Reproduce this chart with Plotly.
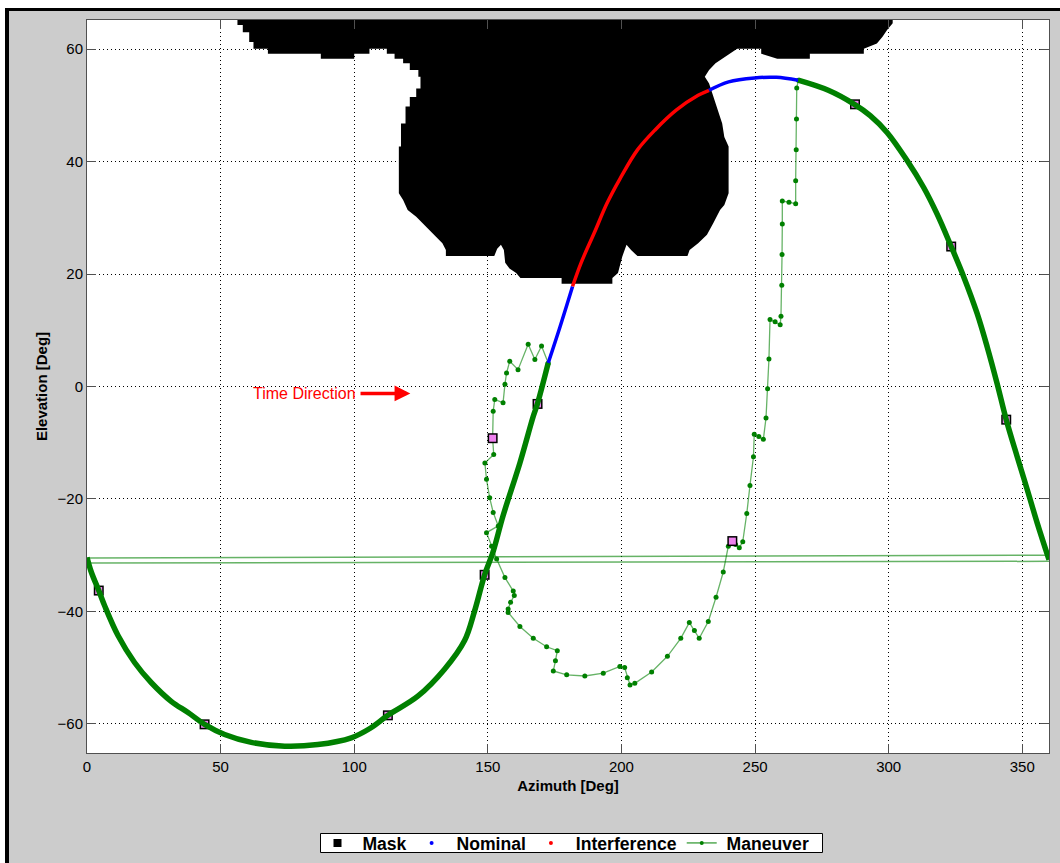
import plotly.graph_objects as go

FONT = "Liberation Sans, Arial, sans-serif"
GREEN = "#008000"
THIN_GREEN = "rgba(0,128,0,0.6)"
FRAME = "#505050"

# ---- data (azimuth, elevation) in degrees ----
# elevation mask outline (closed region, extends above the plot top)
mask_outline = [
    (56.3, 70.0), (56.3, 64.3), (58.3, 64.3), (58.3, 63.0), (60.7, 63.0), (60.7, 61.3),
    (62.3, 61.3), (62.3, 60.1), (67.7, 60.1), (67.7, 59.2), (87.5, 59.2), (87.5, 58.3),
    (100.0, 58.3), (100.0, 59.2), (105.7, 59.2), (105.7, 60.1), (112.2, 60.1), (112.2, 59.2),
    (115.1, 59.2), (115.1, 58.3), (118.3, 58.3), (118.3, 57.5), (120.8, 57.5), (120.8, 56.3),
    (124.0, 56.3), (124.0, 55.1), (124.8, 55.1), (124.8, 53.0), (123.2, 53.0), (123.2, 51.5),
    (120.8, 51.5), (120.8, 49.8), (119.2, 49.8), (119.2, 46.8), (117.5, 46.8), (117.5, 42.7),
    (116.7, 42.7), (116.7, 34.4), (118.3, 33.2), (120.0, 31.4), (123.2, 30.2), (125.6, 29.1),
    (128.1, 27.9), (130.5, 26.7), (133.0, 25.5), (134.3, 24.3), (134.3, 23.2), (152.4, 23.2),
    (153.5, 24.5), (154.9, 25.2), (156.0, 24.3), (156.5, 22.0), (158.1, 21.0), (160.6, 20.2),
    (162.2, 19.3), (177.6, 19.3), (177.6, 18.3), (196.6, 18.3), (196.6, 19.3), (198.7, 20.2),
    (200.3, 23.1), (201.9, 25.2), (203.6, 24.3), (206.0, 23.2), (224.7, 23.2), (225.5, 24.3),
    (228.7, 25.5), (232.0, 27.0), (234.4, 29.1), (236.9, 31.4), (238.5, 32.3), (240.1, 34.4),
    (240.1, 42.7), (238.5, 44.4), (237.7, 46.8), (236.0, 49.2), (234.4, 51.5), (232.8, 53.9),
    (231.2, 55.1), (232.8, 56.3), (235.2, 57.5), (237.7, 58.3), (240.1, 59.2), (243.3, 60.1),
    (252.3, 60.1), (252.3, 59.2), (258.3, 58.3), (270.5, 58.3), (270.5, 59.2), (290.7, 59.2),
    (290.7, 60.1), (295.6, 61.0), (297.7, 62.2), (299.4, 63.4), (301.5, 64.6), (301.5, 70.0),
]

# pass before the nominal segment
track_rise = [
    (0.0, -30.4), (1.6, -33.0), (4.4, -36.3), (6.6, -39.0), (11.6, -44.3), (17.8, -49.1),
    (24.1, -52.7), (31.5, -56.0), (37.8, -58.0), (44.0, -60.1), (51.5, -61.9), (61.5, -63.3),
    (74.0, -64.0), (86.4, -63.7), (98.9, -62.5), (106.0, -60.8), (112.6, -58.5),
    (123.8, -55.1), (133.8, -50.3), (141.3, -45.2), (145.0, -40.0), (148.8, -33.5),
    (151.9, -29.5), (155.7, -23.0), (162.0, -13.6), (167.0, -5.3), (168.6, -3.0), (172.6, 4.2),
]
nominal_low = [(172.6, 4.2), (177.0, 10.6), (181.7, 17.8)]
interference = [
    (181.7, 17.8), (184.9, 22.0), (189.8, 27.3), (194.6, 32.6), (199.5, 37.0), (206.0, 42.1),
    (212.5, 45.6), (220.6, 49.2), (228.7, 51.8), (232.8, 52.7),
]
nominal_high = [(232.8, 52.7), (240.1, 54.2), (249.8, 54.9), (258.0, 55.0), (266.1, 54.5)]
track_set = [
    (266.1, 54.5), (277.4, 52.7), (287.2, 50.2), (293.1, 48.2), (299.4, 45.2), (306.9, 40.2),
    (313.1, 35.4), (318.1, 30.7), (323.4, 24.9), (328.1, 19.5), (333.1, 13.0), (336.9, 7.0),
    (340.6, 0.5), (344.0, -5.9), (348.1, -12.5), (351.9, -18.4), (355.6, -24.3), (360.0, -30.8),
]

# maneuver excursion around the masked region
maneuver_loop = [
    (172.6, 4.2), (170.1, 7.2), (167.6, 4.8), (165.1, 7.5), (161.3, 3.0), (158.2, 4.5),
    (157.0, 2.4), (156.4, 0.4), (155.7, -2.9), (152.6, -2.3), (152.0, -4.4), (151.8, -9.2),
    (152.2, -12.1), (148.9, -13.6), (149.5, -16.5), (150.7, -19.8), (152.0, -22.4),
    (153.9, -24.8), (149.5, -26.0), (151.4, -28.4), (153.3, -30.7), (156.4, -34.0),
    (159.5, -36.4), (159.9, -37.2), (158.5, -38.4), (157.6, -39.6), (157.6, -40.2),
    (162.0, -42.7), (167.0, -44.8), (172.0, -46.3), (176.0, -47.0), (175.3, -48.8),
    (174.5, -50.6), (179.5, -51.3), (186.3, -51.5), (193.2, -51.0), (199.4, -49.8),
    (201.2, -50.0), (202.2, -51.8), (203.2, -53.1), (205.0, -52.8), (211.3, -50.8),
    (217.2, -48.0), (222.2, -44.8), (225.4, -42.0), (227.3, -43.4), (229.1, -44.8),
    (232.5, -41.8), (235.4, -37.5), (238.1, -33.0), (240.0, -28.4), (241.5, -27.5),
    (242.7, -28.1), (244.1, -28.7), (245.4, -27.6), (246.9, -22.6), (248.1, -17.6),
    (249.4, -12.5), (249.7, -8.5), (251.4, -8.9), (253.1, -9.4), (254.1, -5.6), (254.7, -0.4),
    (255.2, 4.9), (255.6, 11.9), (257.5, 11.5), (259.4, 11.0), (259.7, 12.5), (260.0, 18.0),
    (260.1, 23.5), (260.2, 28.9), (260.2, 33.0), (262.7, 32.8), (265.2, 32.5), (265.2, 36.6),
    (265.4, 42.1), (265.5, 47.6), (265.6, 53.1), (266.2, 54.5),
]
# azimuth wrap-around legs (360 -> 0)
wrap_upper = [(0.0, -30.5), (360.0, -30.0)]
wrap_lower = [(0.0, -31.4), (360.0, -31.1)]

# flagged samples along the track
event_az = [4.4, 44.0, 112.6, 148.8, 151.8, 168.6, 241.5, 287.4, 323.4, 344.0]
event_el = [-36.3, -60.1, -58.5, -33.5, -9.2, -3.1, -27.5, 50.2, 24.9, -5.9]

x_ticks = [0, 50, 100, 150, 200, 250, 300, 350]
y_ticks = [-60, -40, -20, 0, 20, 40, 60]


def xs(pts):
    return [p[0] for p in pts]


def ys(pts):
    return [p[1] for p in pts]


fig = go.Figure()

# mask region
fig.add_trace(go.Scatter(x=xs(mask_outline), y=ys(mask_outline), mode="lines", fill="toself",
                         fillcolor="black", line=dict(color="black", width=0),
                         showlegend=False, hoverinfo="skip"))

# wrap-around legs
for leg in (wrap_upper, wrap_lower):
    fig.add_trace(go.Scatter(x=xs(leg), y=ys(leg), mode="lines",
                             line=dict(color=THIN_GREEN, width=1.5),
                             showlegend=False, hoverinfo="skip"))

# maneuver excursion
fig.add_trace(go.Scatter(x=xs(maneuver_loop), y=ys(maneuver_loop), mode="lines+markers",
                         line=dict(color=THIN_GREEN, width=1.3),
                         marker=dict(color=GREEN, size=5, symbol="circle"),
                         showlegend=False, hoverinfo="skip"))

# flagged samples
fig.add_trace(go.Scatter(x=event_az, y=event_el, mode="markers",
                         marker=dict(symbol="square", size=10, color="black"),
                         showlegend=False, hoverinfo="skip"))
fig.add_trace(go.Scatter(x=event_az, y=event_el, mode="markers",
                         marker=dict(symbol="square", size=7, color="#ee82ee"),
                         showlegend=False, hoverinfo="skip"))

# main pass
for seg in (track_rise, track_set):
    fig.add_trace(go.Scatter(x=xs(seg), y=ys(seg), mode="lines",
                             line=dict(color=GREEN, width=5.5, shape="spline", smoothing=1.0),
                             showlegend=False, hoverinfo="skip"))
for seg, col in ((nominal_low, "#0000ff"), (interference, "#ff0000"), (nominal_high, "#0000ff")):
    fig.add_trace(go.Scatter(x=xs(seg), y=ys(seg), mode="lines",
                             line=dict(color=col, width=3.5, shape="spline", smoothing=1.0),
                             showlegend=False, hoverinfo="skip"))

# legend entries
NB = "\u00a0"
fig.add_trace(go.Scatter(x=[None], y=[None], mode="markers", name=NB + "Mask",
                         marker=dict(symbol="square", size=8, color="black")))
fig.add_trace(go.Scatter(x=[None], y=[None], mode="markers", name=NB + "Nominal",
                         marker=dict(symbol="circle", size=4, color="#0000ff")))
fig.add_trace(go.Scatter(x=[None], y=[None], mode="markers", name=NB + "Interference",
                         marker=dict(symbol="circle", size=4, color="#ff0000")))
fig.add_trace(go.Scatter(x=[None], y=[None], mode="lines+markers", name=NB + "Maneuver",
                         line=dict(color=GREEN, width=1),
                         marker=dict(symbol="circle", size=4, color=GREEN)))

# time direction marker
fig.add_annotation(x=101.5, y=-1.24, xref="x", yref="y", text="Time Direction",
                   showarrow=False, xanchor="right", yanchor="middle",
                   font=dict(family=FONT, size=16, color="#ff0000"))
fig.add_annotation(x=121.0, y=-1.24, ax=101.8, ay=-1.24, xref="x", yref="y",
                   axref="x", ayref="y", text="", showarrow=True, arrowhead=2,
                   arrowsize=0.9, arrowwidth=3.5, arrowcolor="#ff0000")

# figure geometry in pixels, converted to paper coords for the frame shapes
L, R, T, B, W, H = 87, 11, 20, 110, 1060, 863
pw, ph = W - L - R, H - T - B


def px(v):
    return (v - L) / pw


def py(v):
    return (H - B - v) / ph


frame_shapes = [
    dict(x0=px(0), x1=px(5), y0=py(H), y1=py(0), fillcolor="white", line=dict(width=0)),
    dict(x0=px(0), x1=px(W), y0=py(8), y1=py(0), fillcolor="white", line=dict(width=0)),
    dict(x0=px(5), x1=px(9), y0=py(H), y1=py(8), fillcolor="black", line=dict(width=0)),
    dict(x0=px(5), x1=px(W), y0=py(11), y1=py(8), fillcolor="black", line=dict(width=0)),
    # legend box
    dict(x0=px(320.5), x1=px(822.5), y0=py(852.5), y1=py(833.5), fillcolor="white",
         line=dict(color="black", width=1)),
]
for s in frame_shapes:
    fig.add_shape(type="rect", xref="paper", yref="paper", layer="above", **s)

axis_common = dict(
    showline=True, linecolor=FRAME, linewidth=1, mirror="ticks",
    ticks="inside", ticklen=9, tickcolor=FRAME, tickwidth=1,
    showgrid=True, gridcolor="black", gridwidth=1, griddash="1px,3px",
    zeroline=False, tickfont=dict(family=FONT, size=15, color="black"),
)

fig.update_layout(
    width=W, height=H,
    margin=dict(l=L, r=R, t=T, b=B, autoexpand=False),
    paper_bgcolor="#cccccc", plot_bgcolor="white",
    font=dict(family=FONT, color="black"),
    xaxis=dict(range=[0, 360], tickvals=x_ticks,
               title=dict(text="Azimuth [Deg]", standoff=6,
                          font=dict(family=FONT, size=15, weight="bold")),
               **axis_common),
    yaxis=dict(range=[-65.2, 65.2], tickvals=y_ticks,
               title=dict(text="Elevation [Deg]", standoff=6,
                          font=dict(family=FONT, size=15, weight="bold")),
               **axis_common),
    legend=dict(orientation="h", x=px(566), xanchor="center", y=py(843), yanchor="middle",
                bgcolor="rgba(0,0,0,0)", borderwidth=0,
                font=dict(family=FONT, size=17.6, weight="bold", color="black"),
                traceorder="normal"),
    showlegend=True,
)

fig.write_html("out.html", config={"displayModeBar": False})
